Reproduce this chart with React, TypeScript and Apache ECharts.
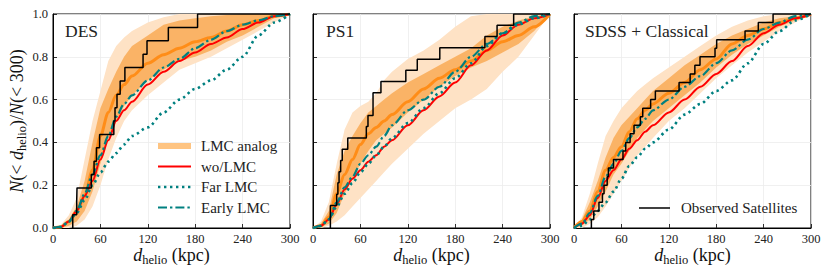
import { useEffect, useRef } from 'react';
import * as echarts from 'echarts';

// common distance grid (kpc)
const XS = [0, 10, 20, 30, 40, 50, 60, 70, 80, 90, 100, 120, 140, 160, 180, 200, 220, 240, 260, 280, 300];

// ---------- DES ----------
const DES_MED = [0, 0.005, 0.03, 0.08, 0.15, 0.27, 0.43, 0.54, 0.62, 0.67, 0.71, 0.77, 0.81, 0.84, 0.87, 0.89, 0.92, 0.95, 0.97, 0.99, 1];
const DES_DARK_HI = [0, 0.01, 0.04, 0.1, 0.22, 0.4, 0.56, 0.65, 0.73, 0.8, 0.85, 0.9, 0.95, 0.97, 0.98, 0.99, 0.995, 1, 1, 1, 1];
const DES_DARK_LO = [0, 0, 0.01, 0.03, 0.08, 0.17, 0.3, 0.42, 0.5, 0.57, 0.62, 0.69, 0.74, 0.78, 0.8, 0.83, 0.87, 0.9, 0.94, 0.98, 1];
const DES_LIGHT_HI = [0, 0.015, 0.06, 0.14, 0.32, 0.5, 0.64, 0.78, 0.85, 0.89, 0.92, 0.96, 0.985, 1, 1, 1, 1, 1, 1, 1, 1];
const DES_LIGHT_LO = [0, 0, 0, 0.01, 0.04, 0.1, 0.2, 0.32, 0.42, 0.5, 0.55, 0.62, 0.68, 0.74, 0.77, 0.8, 0.84, 0.88, 0.92, 0.96, 1];
const DES_WO = [0, 0.005, 0.03, 0.08, 0.15, 0.22, 0.32, 0.41, 0.5, 0.55, 0.59, 0.67, 0.73, 0.78, 0.82, 0.86, 0.89, 0.93, 0.96, 0.99, 1];
const DES_FAR = [0, 0.005, 0.03, 0.07, 0.13, 0.2, 0.26, 0.31, 0.35, 0.39, 0.43, 0.47, 0.54, 0.6, 0.65, 0.69, 0.74, 0.8, 0.9, 0.96, 1];
const DES_EARLY = [0, 0.005, 0.03, 0.08, 0.16, 0.25, 0.34, 0.43, 0.52, 0.58, 0.62, 0.69, 0.75, 0.79, 0.84, 0.88, 0.92, 0.95, 0.97, 0.99, 1];
const DES_OBS_X = [25, 30, 30.4, 48.5, 52, 55, 59, 77, 78.5, 81, 85, 91, 114, 119, 146, 183];
const DES_OBS_Y = [0.0625, 0.125, 0.1875, 0.25, 0.3125, 0.375, 0.4375, 0.5, 0.5625, 0.625, 0.6875, 0.75, 0.8125, 0.875, 0.9375, 1];

// ---------- PS1 ----------
const PS1_MED = [0, 0.01, 0.05, 0.16, 0.25, 0.32, 0.39, 0.44, 0.47, 0.5, 0.53, 0.59, 0.65, 0.7, 0.74, 0.78, 0.83, 0.87, 0.9, 0.94, 1];
const PS1_DARK_HI = [0, 0.02, 0.08, 0.25, 0.36, 0.43, 0.49, 0.54, 0.57, 0.6, 0.63, 0.68, 0.72, 0.76, 0.8, 0.84, 0.9, 0.94, 0.97, 0.99, 1];
const PS1_DARK_LO = [0, 0.005, 0.02, 0.07, 0.16, 0.23, 0.3, 0.36, 0.41, 0.44, 0.47, 0.54, 0.6, 0.66, 0.71, 0.75, 0.78, 0.82, 0.86, 0.92, 1];
const PS1_LIGHT_HI = [0, 0.03, 0.12, 0.3, 0.46, 0.54, 0.57, 0.59, 0.63, 0.69, 0.73, 0.79, 0.83, 0.88, 0.94, 0.99, 1, 1, 1, 1, 1];
const PS1_LIGHT_LO = [0, 0, 0.01, 0.03, 0.06, 0.1, 0.14, 0.18, 0.22, 0.26, 0.3, 0.37, 0.44, 0.5, 0.56, 0.6, 0.65, 0.73, 0.8, 0.9, 1];
const PS1_WO = [0, 0.01, 0.04, 0.11, 0.18, 0.23, 0.27, 0.31, 0.34, 0.38, 0.41, 0.48, 0.55, 0.615, 0.68, 0.76, 0.83, 0.9, 0.95, 0.98, 1];
const PS1_FAR = [0, 0.01, 0.04, 0.1, 0.16, 0.21, 0.26, 0.3, 0.34, 0.38, 0.42, 0.49, 0.56, 0.63, 0.7, 0.77, 0.85, 0.91, 0.95, 0.98, 1];
const PS1_EARLY = [0, 0.01, 0.04, 0.12, 0.19, 0.24, 0.3, 0.34, 0.38, 0.43, 0.48, 0.55, 0.6, 0.66, 0.73, 0.8, 0.86, 0.91, 0.96, 0.99, 1];
const PS1_OBS_X = [22, 22, 30, 31.5, 33, 35, 37, 44, 67.5, 69.6, 76, 76, 86, 117.5, 132, 160.5, 217.6, 233, 254];
const PS1_OBS_Y = [0.053, 0.105, 0.158, 0.211, 0.263, 0.316, 0.368, 0.421, 0.474, 0.526, 0.579, 0.632, 0.684, 0.737, 0.789, 0.842, 0.895, 0.947, 1];

// ---------- SDSS + Classical ----------
const SDSS_MED = [0, 0.03, 0.08, 0.17, 0.27, 0.33, 0.38, 0.45, 0.51, 0.55, 0.58, 0.63, 0.68, 0.74, 0.79, 0.86, 0.9, 0.93, 0.96, 0.98, 1];
const SDSS_DARK_HI = [0, 0.04, 0.12, 0.22, 0.33, 0.42, 0.48, 0.52, 0.56, 0.6, 0.64, 0.7, 0.76, 0.81, 0.86, 0.9, 0.93, 0.96, 0.98, 0.99, 1];
const SDSS_DARK_LO = [0, 0.01, 0.04, 0.1, 0.17, 0.25, 0.3, 0.36, 0.42, 0.46, 0.5, 0.56, 0.62, 0.68, 0.75, 0.81, 0.86, 0.9, 0.94, 0.97, 1];
const SDSS_LIGHT_HI = [0, 0.05, 0.16, 0.3, 0.43, 0.5, 0.56, 0.6, 0.64, 0.67, 0.7, 0.75, 0.8, 0.85, 0.9, 0.94, 0.97, 0.99, 1, 1, 1];
const SDSS_LIGHT_LO = [0, 0, 0.02, 0.05, 0.1, 0.16, 0.22, 0.28, 0.34, 0.38, 0.42, 0.5, 0.56, 0.63, 0.7, 0.76, 0.82, 0.87, 0.92, 0.96, 1];
const SDSS_WO = [0, 0.02, 0.06, 0.14, 0.22, 0.27, 0.32, 0.37, 0.41, 0.45, 0.48, 0.54, 0.6, 0.66, 0.72, 0.78, 0.85, 0.91, 0.95, 0.98, 1];
const SDSS_FAR = [0, 0.01, 0.04, 0.08, 0.12, 0.17, 0.23, 0.29, 0.33, 0.37, 0.4, 0.46, 0.53, 0.58, 0.64, 0.69, 0.77, 0.86, 0.92, 0.97, 1];
const SDSS_EARLY = [0, 0.02, 0.07, 0.15, 0.24, 0.3, 0.36, 0.42, 0.47, 0.51, 0.55, 0.6, 0.66, 0.71, 0.77, 0.83, 0.88, 0.93, 0.96, 0.99, 1];
const SDSS_OBS_X = [22, 25, 31.6, 36, 38, 42, 43.5, 50, 62, 65.5, 71, 76, 84, 87, 97, 103, 133, 147, 153, 159.5, 178.5, 180.6, 216.5, 233.3, 252];
const SDSS_OBS_Y = [0.04, 0.08, 0.12, 0.16, 0.2, 0.24, 0.28, 0.32, 0.36, 0.4, 0.44, 0.48, 0.52, 0.56, 0.6, 0.64, 0.68, 0.72, 0.76, 0.8, 0.84, 0.88, 0.92, 0.96, 1];

const PANEL_NAMES = ['DES', 'PS1', 'SDSS + Classical'];
const LEGEND_LABELS = ['LMC analog', 'wo/LMC', 'Far LMC', 'Early LMC'];
const OBS_LABEL = 'Observed Satellites';

const PANELS = [
  { med: DES_MED, dhi: DES_DARK_HI, dlo: DES_DARK_LO, lhi: DES_LIGHT_HI, llo: DES_LIGHT_LO, wo: DES_WO, far: DES_FAR, early: DES_EARLY, ox: DES_OBS_X, oy: DES_OBS_Y },
  { med: PS1_MED, dhi: PS1_DARK_HI, dlo: PS1_DARK_LO, lhi: PS1_LIGHT_HI, llo: PS1_LIGHT_LO, wo: PS1_WO, far: PS1_FAR, early: PS1_EARLY, ox: PS1_OBS_X, oy: PS1_OBS_Y },
  { med: SDSS_MED, dhi: SDSS_DARK_HI, dlo: SDSS_DARK_LO, lhi: SDSS_LIGHT_HI, llo: SDSS_LIGHT_LO, wo: SDSS_WO, far: SDSS_FAR, early: SDSS_EARLY, ox: SDSS_OBS_X, oy: SDSS_OBS_Y },
];

const FONT = 'Liberation Serif';
const C_LIGHT = '#fee2c5';
const C_DARK = '#fab366';
const C_MED = '#ff8d18';
const C_LEG_ORANGE = '#fec482';
const C_RED = '#ff0000';
const C_TEAL = '#008080';
const GRID_LEFTS = [53, 313, 574];
const GRID_W = 237;
const GRID_TOP = 14;
const GRID_H = 214;

const RICH = {
  r: { fontFamily: FONT, fontSize: 18, color: '#111', lineHeight: 22 },
  i: { fontFamily: FONT, fontSize: 18, fontStyle: 'italic', color: '#111', lineHeight: 22 },
  s: { fontFamily: FONT, fontSize: 12.5, color: '#111', lineHeight: 13, verticalAlign: 'bottom' },
};

function bandSeries(p: number, lo: number[], hi: number[], color: string, z: number) {
  return {
    type: 'custom',
    xAxisIndex: p,
    yAxisIndex: p,
    z,
    silent: true,
    data: XS.map((x, i) => [x, lo[i], hi[i]]),
    encode: { x: 0, y: [1, 2] },
    renderItem: (params: any, api: any) => {
      if (params.dataIndexInside !== 0) return null;
      const n = params.dataInsideLength;
      const top: number[][] = [];
      const bot: number[][] = [];
      for (let i = 0; i < n; i++) {
        const x = api.value(0, i);
        top.push(api.coord([x, api.value(2, i)]));
        bot.push(api.coord([x, api.value(1, i)]));
      }
      return { type: 'polygon', shape: { points: top.concat(bot.reverse()) }, style: { fill: color } };
    },
  };
}

function lineSeries(p: number, arr: number[], color: string, width: number, type: any, z: number) {
  return {
    type: 'line',
    xAxisIndex: p,
    yAxisIndex: p,
    z,
    silent: true,
    symbol: 'none',
    smooth: 0.3,
    smoothMonotone: 'x',
    data: XS.map((x, i) => [x, arr[i]]),
    lineStyle: { color, width, type, cap: 'butt' },
  };
}

function buildOption() {
  const grid: any[] = [];
  const xAxis: any[] = [];
  const yAxis: any[] = [];
  const series: any[] = [];
  PANELS.forEach((pd, p) => {
    grid.push({ left: GRID_LEFTS[p], top: GRID_TOP, width: GRID_W, height: GRID_H, show: true, borderColor: '#000', borderWidth: 1, backgroundColor: 'transparent' });
    xAxis.push({
      gridIndex: p, type: 'value', min: 0, max: 300, interval: 60,
      name: '{i|d}{s|helio}{r| (kpc)}', nameLocation: 'middle', nameGap: 16, nameMoveOverlap: false,
      nameTextStyle: { rich: RICH },
      axisLine: { show: true, lineStyle: { color: '#000', width: 1 } },
      axisTick: { show: true, inside: true, length: 4, lineStyle: { color: '#000', width: 0.8 } },
      axisLabel: { fontFamily: FONT, fontSize: 12.5, color: '#222', margin: 4 },
      splitLine: { show: true, lineStyle: { color: '#ececec', width: 0.8 } },
    });
    yAxis.push({
      gridIndex: p, type: 'value', min: 0, max: 1, interval: 0.2,
      name: p === 0 ? '{i|N}{r|(< }{i|d}{s|helio}{r|)/}{i|N}{r|(< 300)}' : '',
      nameLocation: 'middle', nameGap: 25, nameMoveOverlap: false,
      nameTextStyle: { rich: RICH },
      axisLine: { show: true, lineStyle: { color: '#000', width: 1 } },
      axisTick: { show: true, inside: true, length: 4, lineStyle: { color: '#000', width: 0.8 } },
      axisLabel: { show: p === 0, fontFamily: FONT, fontSize: 12.5, color: '#222', margin: 5, formatter: (v: number) => v.toFixed(1) },
      splitLine: { show: true, lineStyle: { color: '#ececec', width: 0.8 } },
    });
    series.push(bandSeries(p, pd.llo, pd.lhi, C_LIGHT, 1));
    series.push(bandSeries(p, pd.dlo, pd.dhi, C_DARK, 2));
    series.push(lineSeries(p, pd.med, C_MED, 3, 'solid', 3));
    series.push(lineSeries(p, pd.wo, C_RED, 2, 'solid', 4));
    series.push(lineSeries(p, pd.far, C_TEAL, 2.6, [2.4, 3.6], 5));
    series.push(lineSeries(p, pd.early, C_TEAL, 2.2, [9, 3, 2.4, 3], 6));
    const obs: number[][] = [[pd.ox[0], 0]];
    pd.ox.forEach((x, i) => obs.push([x, pd.oy[i]]));
    obs.push([300, 1]);
    series.push({
      type: 'line', xAxisIndex: p, yAxisIndex: p, z: 7, silent: true, symbol: 'none', step: 'end',
      data: obs, lineStyle: { color: '#000', width: 1.5 },
    });
  });

  const graphic: any[] = [];
  const nameX = [65, 326, 585];
  PANEL_NAMES.forEach((t, p) => {
    graphic.push({ type: 'text', x: nameX[p], y: 31, z: 100, style: { text: t, fontFamily: FONT, fontSize: 17.5, fill: '#222', verticalAlign: 'middle' } });
  });
  const legY = [146, 166.5, 187, 207.5];
  const legStyles = [
    { stroke: C_LEG_ORANGE, lineWidth: 6 },
    { stroke: C_RED, lineWidth: 2 },
    { stroke: C_TEAL, lineWidth: 2.6, lineDash: [2.4, 3.6] },
    { stroke: C_TEAL, lineWidth: 2.2, lineDash: [9, 3, 2.4, 3] },
  ];
  LEGEND_LABELS.forEach((t, k) => {
    graphic.push({ type: 'line', z: 100, shape: { x1: 158, y1: legY[k], x2: 191, y2: legY[k] }, style: legStyles[k] });
    graphic.push({ type: 'text', z: 100, x: 201, y: legY[k], style: { text: t, fontFamily: FONT, fontSize: 15, fill: '#222', verticalAlign: 'middle' } });
  });
  graphic.push({ type: 'line', z: 100, shape: { x1: 639, y1: 208, x2: 670, y2: 208 }, style: { stroke: '#000', lineWidth: 1.5 } });
  graphic.push({ type: 'text', z: 100, x: 681, y: 208, style: { text: OBS_LABEL, fontFamily: FONT, fontSize: 15, fill: '#222', verticalAlign: 'middle' } });

  return { animation: false, backgroundColor: '#fff', grid, xAxis, yAxis, series, graphic };
}

export default function App() {
  const ref = useRef<HTMLDivElement>(null);
  useEffect(() => {
    const chart = echarts.init(ref.current!, null, { renderer: 'svg' });
    chart.setOption(buildOption() as any);
    return () => chart.dispose();
  }, []);
  return <div ref={ref} style={{ position: 'fixed', left: 0, top: 0, width: 830, height: 277, background: '#fff' }} />;
}
